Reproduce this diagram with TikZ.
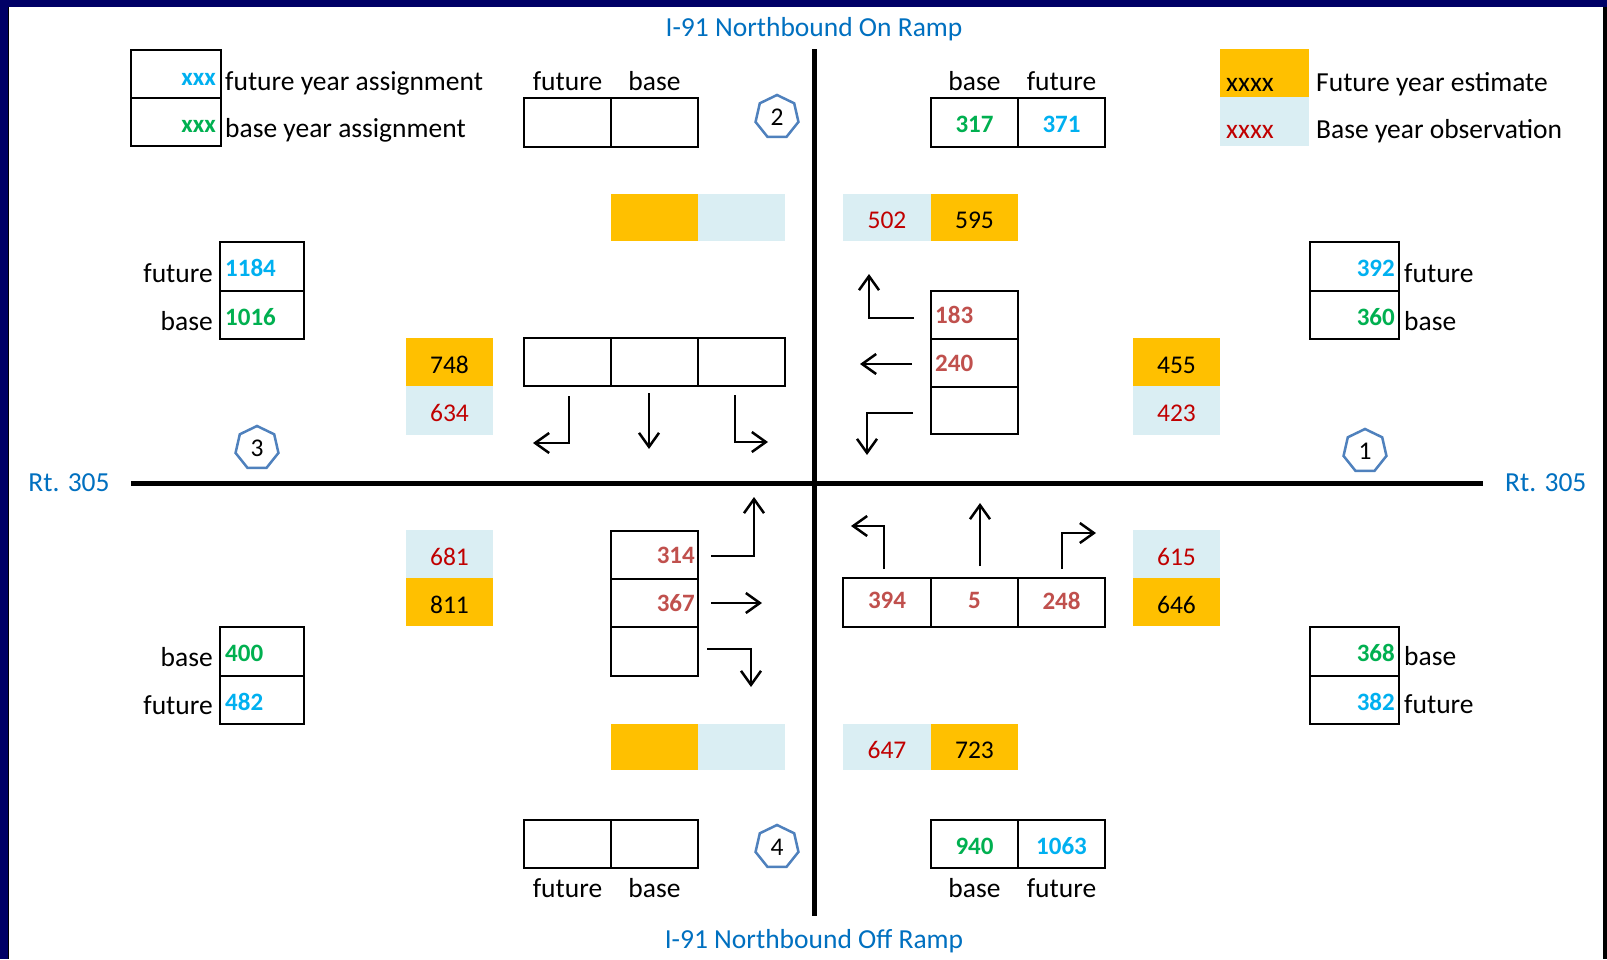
\documentclass[tikz,border=0pt]{standalone}
\usepackage{fontspec}
\setmainfont{Carlito}
\usetikzlibrary{arrows.meta,shapes.geometric}
\definecolor{navyB}{RGB}{0,0,102}
\definecolor{roadblue}{RGB}{0,112,192}
\definecolor{cyanv}{RGB}{0,176,240}
\definecolor{greenv}{RGB}{0,176,80}
\definecolor{orangeE}{RGB}{255,192,0}
\definecolor{lblue}{RGB}{218,238,243}
\definecolor{redO}{RGB}{192,0,0}
\definecolor{redM}{RGB}{192,80,77}
\definecolor{heptc}{RGB}{79,129,189}
\newcommand\mytxt{\fontsize{27.5}{33}\selectfont}
\newcommand\mynum{\fontsize{25.5}{30}\selectfont}
\newcommand\mybold{\fontsize{25}{30}\selectfont\bfseries}
\begin{document}
\begin{tikzpicture}[x=1pt,y=-1pt,
  cell/.style={draw=black, line width=2pt, inner sep=0pt, minimum width=87pt, minimum height=48pt},
  est/.style={fill=orangeE, inner sep=0pt, minimum width=87pt, minimum height=48pt, font=\mynum, text=black, text height=22pt, text depth=0pt},
  obs/.style={fill=lblue, inner sep=0pt, minimum width=87pt, minimum height=48pt, font=\mynum, text=redO, text height=22pt, text depth=0pt},
  txt/.style={font=\mytxt, inner sep=0pt, text=black},
  roadlbl/.style={font=\mytxt, inner sep=0pt, text=roadblue},
  fv/.style={font=\mybold, inner sep=0pt, text=cyanv, text height=20pt, text depth=0pt},
  bv/.style={font=\mybold, inner sep=0pt, text=greenv, text height=20pt, text depth=0pt},
  mv/.style={font=\mybold, inner sep=0pt, text=redM},
  road/.style={line width=5pt, black},
  turn/.style={line width=2.5pt, -{Straight Barb[length=14pt,width=20pt]}},
  hept/.style={regular polygon, regular polygon sides=7, draw=heptc, line width=2.5pt, minimum size=44pt, inner sep=0pt, font=\mynum}
]
\useasboundingbox (0,0) rectangle (1607,959);
\fill[white] (0,0) rectangle (1607,959);
\fill[navyB] (0,0) rectangle (7.5,959);
\fill[black] (7.5,7) rectangle (8.5,959);
\fill[navyB] (0,0) rectangle (1607,7);
\fill[black] (1603,7) rectangle (1607,959);

% roads
\coordinate (vtop) at (814,49);
\coordinate (vbot) at (814,916);
\coordinate (hl) at (131,483);
\coordinate (hr) at (1483,483);
\draw[road] (vtop) -- (vbot);
\draw[road] (hl) -- (hr);
\node[roadlbl, anchor=base] (onramp) at (814,36) {I-91 Northbound On Ramp};
\node[roadlbl, anchor=base] (offramp) at (814,948) {I-91 Northbound Off Ramp};
\node[roadlbl, anchor=base] (rtl) at (69,491) {Rt. 305};
\node[roadlbl, anchor=base west] (rtr) at (1505,491) {Rt. 305};

% legend left
\node[cell, minimum width=90pt] (lg1) at (176,74) {};
\node[cell, minimum width=90pt] (lg2) at (176,122) {};
\node[fv, font=\fontsize{25}{30}\selectfont\bfseries, anchor=base east] (lgx1) at (216,85) {xxx};
\node[bv, font=\fontsize{25}{30}\selectfont\bfseries, anchor=base east] (lgx2) at (216,132) {xxx};
\node[txt, anchor=base west] (lgt1) at (225,90) {future year assignment};
\node[txt, anchor=base west] (lgt2) at (225,137) {base year assignment};

% legend right
\node[est, minimum width=89pt] (lr1) at (1264.5,73) {};
\node[obs, minimum width=89pt, minimum height=49pt] (lr2) at (1264.5,121.5) {};
\node[txt, font=\mytxt, anchor=base west] (lrx1) at (1226,91) {xxxx};
\node[txt, font=\mytxt, text=redO, anchor=base west] (lrx2) at (1226,138) {xxxx};
\node[txt, anchor=base west] (lrt1) at (1316,91) {Future year estimate};
\node[txt, anchor=base west] (lrt2) at (1316,138) {Base year observation};

% top boxes
\node[txt, anchor=base] (tlf) at (567.5,90) {future};
\node[txt, anchor=base] (tlb) at (654.5,90) {base};
\node[cell, minimum height=49pt] (tl1) at (567.5,122.5) {};
\node[cell, minimum height=49pt] (tl2) at (654.5,122.5) {};
\node[txt, anchor=base] (trb) at (974.5,90) {base};
\node[txt, anchor=base] (trf) at (1061.5,90) {future};
\node[cell, minimum height=49pt] (tr1) at (974.5,122.5) {};
\node[cell, minimum height=49pt] (tr2) at (1061.5,122.5) {};
\node[bv] (tr1v) at (tr1) {317};
\node[fv] (tr2v) at (tr2) {371};
\node[hept] (h2) at (777,117) {2};

% bottom boxes
\node[cell] (bl1) at (567.5,844) {};
\node[cell] (bl2) at (654.5,844) {};
\node[txt, anchor=base] (blf) at (567.5,897) {future};
\node[txt, anchor=base] (blb) at (654.5,897) {base};
\node[cell] (br1) at (974.5,844) {};
\node[cell] (br2) at (1061.5,844) {};
\node[bv] (br1v) at (br1) {940};
\node[fv] (br2v) at (br2) {1063};
\node[txt, anchor=base] (brb) at (974.5,897) {base};
\node[txt, anchor=base] (brf) at (1061.5,897) {future};
\node[hept] (h4) at (777,847) {4};

% estimate / observation pairs
\node[est, minimum height=47pt] (ulo) at (654.5,217.5) {};
\node[obs, minimum height=47pt] (ulb) at (741.5,217.5) {};
\node[obs, minimum width=88pt, minimum height=47pt] (urb) at (887,217.5) {502};
\node[est, minimum height=47pt] (uro) at (974.5,217.5) {595};
\node[est, minimum height=46pt] (llo) at (654.5,747) {};
\node[obs, minimum height=46pt] (llb) at (741.5,747) {};
\node[obs, minimum width=88pt, minimum height=46pt] (lrb) at (887,747) {647};
\node[est, minimum height=46pt] (lro) at (974.5,747) {723};
\node[est] (wuo) at (449.5,362) {748};
\node[obs, minimum height=49pt] (wub) at (449.5,410.5) {634};
\node[obs] (wlb) at (449.5,554) {681};
\node[est] (wlo) at (449.5,602) {811};
\node[est] (euo) at (1176.5,362) {455};
\node[obs, minimum height=49pt] (eub) at (1176.5,410.5) {423};
\node[obs] (elb) at (1176.5,554) {615};
\node[est] (elo) at (1176.5,602) {646};

% side assignment boxes
\node[cell, minimum width=84pt, minimum height=49pt] (lu1) at (262,266.5) {};
\node[cell, minimum width=84pt] (lu2) at (262,315) {};
\node[fv, anchor=west] (lu1v) at ([xshift=6pt]lu1.west) {1184};
\node[bv, anchor=west] (lu2v) at ([xshift=6pt]lu2.west) {1016};
\node[txt, anchor=base east] (luf) at (213,282) {future};
\node[txt, anchor=base east] (lub) at (213,330) {base};
\node[hept] (h3) at (257,448) {3};

\node[cell, minimum width=84pt, minimum height=49pt] (ll1) at (262,651.5) {};
\node[cell, minimum width=84pt] (ll2) at (262,700) {};
\node[bv, anchor=west] (ll1v) at ([xshift=6pt]ll1.west) {400};
\node[fv, anchor=west] (ll2v) at ([xshift=6pt]ll2.west) {482};
\node[txt, anchor=base east] (llb) at (213,666) {base};
\node[txt, anchor=base east] (llf) at (213,714) {future};

\node[cell, minimum width=89pt, minimum height=49pt] (ru1) at (1354.5,266.5) {};
\node[cell, minimum width=89pt] (ru2) at (1354.5,315) {};
\node[fv, anchor=east] (ru1v) at ([xshift=-5pt]ru1.east) {392};
\node[bv, anchor=east] (ru2v) at ([xshift=-5pt]ru2.east) {360};
\node[txt, anchor=base west] (ruf) at (1404,282) {future};
\node[txt, anchor=base west] (rub) at (1404,330) {base};
\node[hept] (h1) at (1365,451) {1};

\node[cell, minimum width=89pt, minimum height=49pt] (rl1) at (1354.5,651.5) {};
\node[cell, minimum width=89pt] (rl2) at (1354.5,700) {};
\node[bv, anchor=east] (rl1v) at ([xshift=-5pt]rl1.east) {368};
\node[fv, anchor=east] (rl2v) at ([xshift=-5pt]rl2.east) {382};
\node[txt, anchor=base west] (rlb) at (1404,665) {base};
\node[txt, anchor=base west] (rlf) at (1404,713) {future};

% movement boxes: north approach
\node[cell] (n1) at (567.5,362) {};
\node[cell] (n2) at (654.5,362) {};
\node[cell] (n3) at (741.5,362) {};
\draw[turn] (569,396) -- (569,443) -- (533,443);
\draw[turn] (649,393) -- (649,449);
\draw[turn] (735,395) -- (735,442) -- (768,442);

% east approach
\node[cell] (e1) at (974.5,315) {};
\node[cell] (e2) at (974.5,363) {};
\node[cell, minimum height=47pt] (e3) at (974.5,410.5) {};
\node[mv, anchor=west] (e1v) at ([xshift=5pt]e1.west) {183};
\node[mv, anchor=west] (e2v) at ([xshift=5pt]e2.west) {240};
\draw[turn] (914,318) -- (869,318) -- (869,274);
\draw[turn] (912,364) -- (860,364);
\draw[turn] (913,413) -- (867,413) -- (867,455);

% west approach
\node[cell] (w1) at (654.5,555) {};
\node[cell] (w2) at (654.5,603) {};
\node[cell, minimum height=49pt] (w3) at (654.5,651.5) {};
\node[mv, anchor=east] (w1v) at ([xshift=-4pt]w1.east) {314};
\node[mv, anchor=east] (w2v) at ([xshift=-4pt]w2.east) {367};
\draw[turn] (711,556) -- (754,556) -- (754,497);
\draw[turn] (711,603) -- (762,603);
\draw[turn] (707,649) -- (751,649) -- (751,687);

% south approach
\node[cell, minimum width=88pt, minimum height=49pt] (s1) at (887,602.5) {};
\node[cell, minimum height=49pt] (s2) at (974.5,602.5) {};
\node[cell, minimum height=49pt] (s3) at (1061.5,602.5) {};
\node[mv] (s1v) at ([yshift=2pt]s1.center) {394};
\node[mv] (s2v) at ([yshift=2pt]s2.center) {5};
\node[mv] (s3v) at ([yshift=2pt]s3.center) {248};
\draw[turn] (884,569) -- (884,526) -- (851,526);
\draw[turn] (980,566) -- (980,503);
\draw[turn] (1062,569) -- (1062,533) -- (1096,533);
\end{tikzpicture}
\end{document}
